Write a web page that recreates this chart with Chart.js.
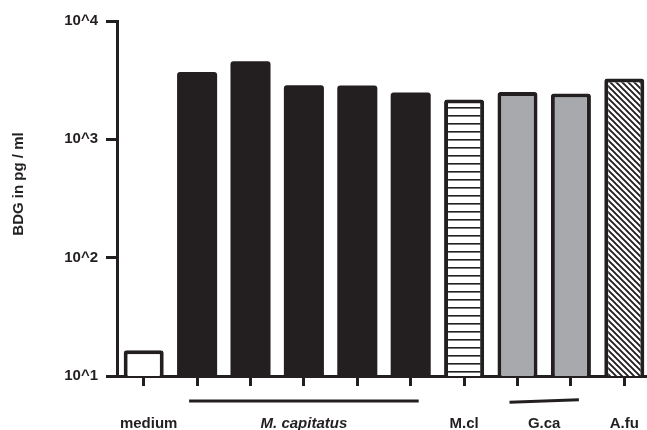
<!DOCTYPE html>
<html>
<head>
<meta charset="utf-8">
<script src="https://cdn.jsdelivr.net/npm/chart.js@4.4.0/dist/chart.umd.min.js"></script>
<style>
  html, body { margin: 0; padding: 0; background: #fff; overflow: hidden; }
  #wrap { width: 651px; height: 430px; position: relative; }
</style>
</head>
<body>
<div id="wrap"><canvas id="bdgChart"></canvas></div>
<script>
// categories and values (log scale, pg/ml)
const categories = ['medium', 'M. capitatus 1', 'M. capitatus 2', 'M. capitatus 3', 'M. capitatus 4',
                    'M. capitatus 5', 'M.cl', 'G.ca 1', 'G.ca 2', 'A.fu'];
const bdgValues = [16.5, 3715, 4570, 2866, 2850, 2488, 2170, 2516, 2439, 3266];
const yTickValues = [10, 100, 1000, 10000];

// groups printed under the x axis
const groupNames = ['medium', 'M. capitatus', 'M.cl', 'G.ca', 'A.fu'];
const groupFirst = [0, 1, 6, 7, 9];
const groupLast = [0, 5, 6, 8, 9];

const ink = '#231f20';
const grey = '#a7a9ac';
const fontFamily = '"Liberation Sans", Arial, Helvetica, sans-serif';

function stripes() {
    const c = document.createElement('canvas');
    c.width = 8; c.height = 8;
    const g = c.getContext('2d');
    g.fillStyle = '#fff';
    g.fillRect(0, 0, 8, 8);
    g.fillStyle = ink;
    g.fillRect(0, 3, 8, 1.6);
    return g.createPattern(c, 'repeat');
}

function diagonals() {
    const c = document.createElement('canvas');
    c.width = 6; c.height = 6;
    const g = c.getContext('2d');
    g.fillStyle = '#fff';
    g.fillRect(0, 0, 6, 6);
    g.strokeStyle = ink;
    g.lineWidth = 1.9;
    g.beginPath();
    g.moveTo(-1, -1); g.lineTo(7, 7);
    g.moveTo(-1, 5); g.lineTo(1, 7);
    g.moveTo(5, -1); g.lineTo(7, 1);
    g.stroke();
    return g.createPattern(c, 'repeat');
}

// group labels, underlines and the y title
const groupLabelPlugin = {
    id: 'groupLabels',
    afterDraw(chart) {
        const ctx = chart.ctx;
        const xs = chart.scales.x;
        ctx.save();
        ctx.fillStyle = ink;
        ctx.strokeStyle = ink;
        ctx.textAlign = 'center';
        ctx.textBaseline = 'alphabetic';
        groupNames.forEach((name, i) => {
            const x0 = xs.getPixelForValue(groupFirst[i]);
            const x1 = xs.getPixelForValue(groupLast[i]);
            if (groupLast[i] > groupFirst[i]) {
                const tilt = name === 'G.ca' ? 2.4 : 0;
                ctx.lineWidth = 3;
                ctx.beginPath();
                ctx.moveTo(x0 - 8, 401 + tilt / 2);
                ctx.lineTo(x1 + 8, 401 - tilt / 2);
                ctx.stroke();
            }
            ctx.font = (name === 'M. capitatus' ? 'italic ' : '') + 'bold 15px ' + fontFamily;
            const shift = name === 'medium' ? 5 : 0;
            ctx.fillText(name, (x0 + x1) / 2 + shift, 428);
        });
        ctx.translate(19, 184);
        ctx.rotate(-Math.PI / 2);
        ctx.textBaseline = 'middle';
        ctx.font = 'bold 15px ' + fontFamily;
        ctx.fillText('BDG in pg / ml', 0, 0);
        ctx.restore();
    }
};

const fills = ['#fff', ink, ink, ink, ink, ink, stripes(), grey, grey, diagonals()];
// solid black bars carry no separate outline
const outlines = [4, 0, 0, 0, 0, 0, 4, 4, 4, 4];

new Chart(document.getElementById('bdgChart'), {
    type: 'bar',
    data: {
        labels: categories,
        datasets: [{
            data: bdgValues,
            backgroundColor: fills,
            borderColor: ink,
            borderWidth: outlines,
            borderRadius: 3,
            borderSkipped: 'start',
            barPercentage: 0.75,
            categoryPercentage: 1
        }]
    },
    options: {
        responsive: true,
        maintainAspectRatio: false,
        animation: false,
        layout: { padding: { top: 21, right: 0, left: 0, bottom: 0 } },
        plugins: { legend: { display: false }, tooltip: { enabled: false } },
        scales: {
            x: {
                grid: { offset: false, drawOnChartArea: false, tickLength: 10, lineWidth: 3, color: ink },
                border: { display: true, width: 3, color: ink },
                ticks: { display: false },
                afterFit: (scale) => { scale.height = 54; }
            },
            y: {
                type: 'logarithmic',
                min: 10,
                max: 10000,
                afterBuildTicks: (scale) => { scale.ticks = yTickValues.map(v => ({ value: v })); },
                grid: { drawOnChartArea: false, tickLength: 11, lineWidth: 3, color: ink },
                border: { display: true, width: 3, color: ink },
                ticks: {
                    color: ink,
                    padding: 8,
                    font: { family: fontFamily, size: 15, weight: 'bold' },
                    callback: (v) => '10^' + Math.round(Math.log10(v))
                },
                afterFit: (scale) => { scale.width = 117; }
            }
        }
    },
    plugins: [groupLabelPlugin]
});
</script>
</body>
</html>
